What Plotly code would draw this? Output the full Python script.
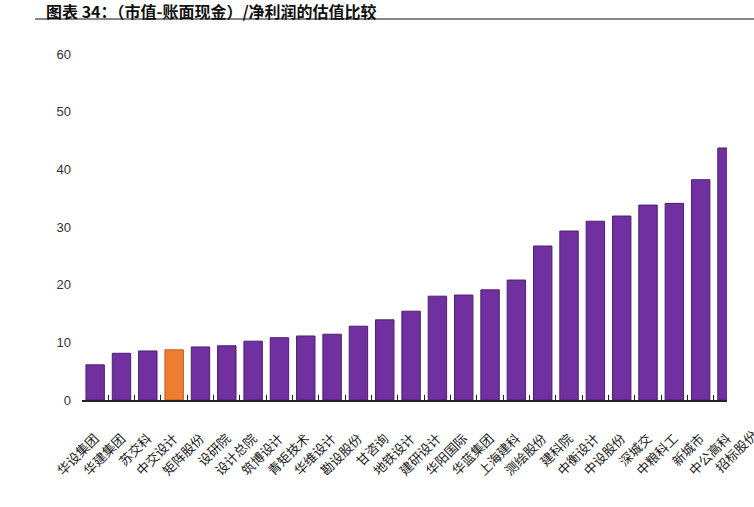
import plotly.graph_objects as go

categories = ["华设集团", "华建集团", "苏交科", "中交设计", "矩阵股份", "设研院", "设计总院",
              "筑博设计", "青矩技术", "华维设计", "勘设股份", "甘咨询", "地铁设计", "建研设计",
              "华阳国际", "华蓝集团", "上海建科", "测绘股份", "建科院", "中衡设计", "中设股份",
              "深城交", "中粮科工", "新城市", "中公高科"]
values = [6.1, 8.1, 8.5, 8.7, 9.2, 9.4, 10.2, 10.8, 11.1, 11.4, 12.8, 13.9, 15.4, 18.0,
          18.2, 19.1, 20.8, 26.7, 29.3, 31.0, 31.9, 33.8, 34.1, 38.2, 43.7]
extra_label = "招标股份"
highlight = "中交设计"
title_text = "图表 34：（市值-账面现金）/净利润的估值比较"
y_ticks = [0, 10, 20, 30, 40, 50, 60]

purple = "#7030A0"
orange = "#ED7D31"
colors = [orange if c == highlight else purple for c in categories]
lines = ["#B85A1E" if c == highlight else "#4B1F6E" for c in categories]

x_range = [-0.5, len(categories) - 1 + 0.0]

W, H = 754, 507
ML, MR, MT, MB = 82, 27, 54, 107
PW, PH = W - ML - MR, H - MT - MB

fig = go.Figure()
fig.add_trace(go.Bar(
    x=categories, y=values,
    marker=dict(color=colors, line=dict(color=lines, width=1)),
    width=0.7,
))

fig.update_layout(
    width=W, height=H,
    margin=dict(l=ML, r=MR, t=MT, b=MB),
    paper_bgcolor="white", plot_bgcolor="white",
    showlegend=False,
    xaxis=dict(
        type="category", range=x_range,
        showline=True, linecolor="#222222", linewidth=1.5,
        ticks="inside", tickson="boundaries", ticklen=5, tickcolor="#222222",
        tickangle=-45, ticklabelstandoff=24,
        tickfont=dict(family="Noto Sans CJK SC", size=13, color="#222222"),
        showgrid=False, zeroline=False,
    ),
    yaxis=dict(
        range=[0, 60], tickvals=y_ticks,
        showgrid=False, zeroline=False, showline=False,
        tickfont=dict(family="Liberation Sans, Arial", size=13, color="#333333"),
        ticks="", ticklabelstandoff=10,
    ),
)

# title
fig.add_annotation(
    text="<b>" + title_text + "</b>",
    xref="paper", yref="paper", x=(44 - ML) / PW, y=1 + (MT - 11) / PH,
    xanchor="left", yanchor="middle", showarrow=False,
    font=dict(family="Noto Sans CJK SC", size=16, color="#111111"),
)
fig.add_shape(type="line", xref="paper", yref="paper",
              x0=(35 - ML) / PW, x1=(W - ML) / PW,
              y0=1 + (MT - 19) / PH, y1=1 + (MT - 19) / PH,
              line=dict(color="#111111", width=1))

# label of the next (cut-off) category
frac = (len(categories) - x_range[0]) / (x_range[1] - x_range[0])
fig.add_annotation(
    text=extra_label, xref="paper", yref="paper", x=frac, y=0,
    xanchor="right", yanchor="top", textangle=-45, showarrow=False,
    yshift=-23, xshift=11,
    font=dict(family="Noto Sans CJK SC", size=13, color="#222222"),
)

fig.write_html("out.html", config={"displayModeBar": False},
               post_script="document.body.style.margin='0';")
